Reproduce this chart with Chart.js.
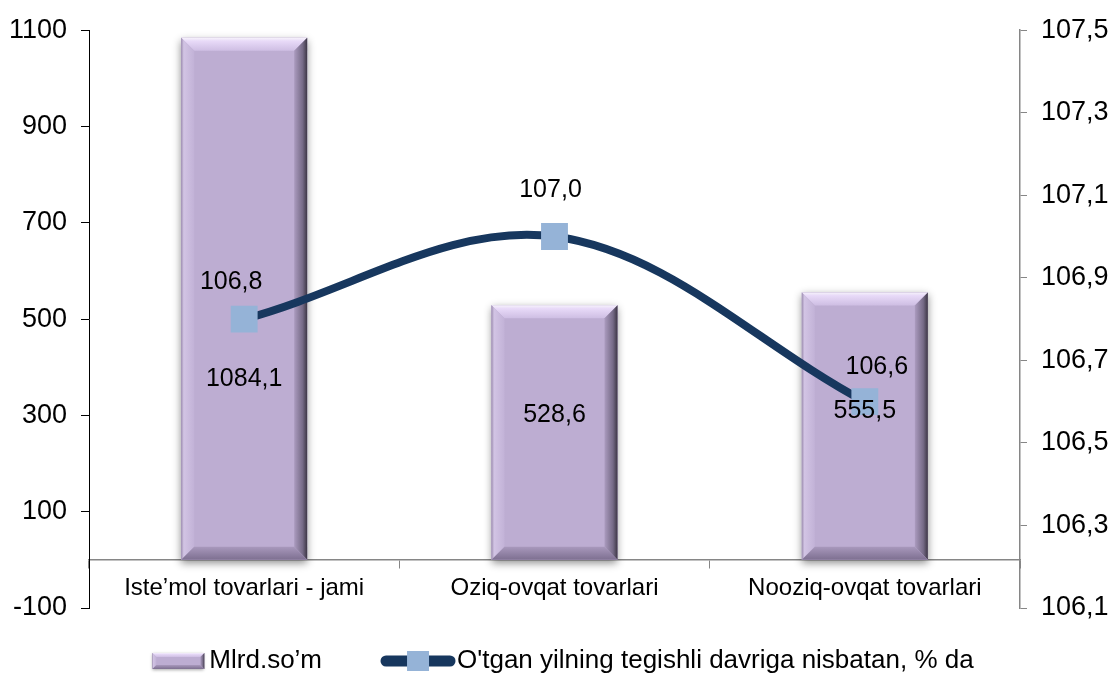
<!DOCTYPE html>
<html><head><meta charset="utf-8">
<script src="https://cdn.jsdelivr.net/npm/chart.js@4/dist/chart.umd.min.js"></script>
<style>html,body{margin:0;padding:0;background:#fff;overflow:hidden}canvas{display:block}</style>
</head><body>
<canvas id="c" width="1114" height="673"></canvas>
<script>
const categories = ["Iste\u2019mol tovarlari - jami", "Oziq-ovqat tovarlari", "Nooziq-ovqat tovarlari"];
const barValues = [1084.1, 528.6, 555.5];
const lineValues = [106.8, 107.0, 106.6];
const leftTicks = [-100, 100, 300, 500, 700, 900, 1100];
const rightTicks = [106.1, 106.3, 106.5, 106.7, 106.9, 107.1, 107.3, 107.5];
const barSeriesName = "Mlrd.so\u2019m";
const lineSeriesName = "O'tgan yilning tegishli davriga nisbatan, % da";
// label placement: bar labels in left-axis units, line labels as pixel offsets from the point
const barLabelAt = [376, 300, 308];
const lineLabelOffset = [[-13, -37], [-4, -46], [12, -35]];

const FONT = "'Liberation Sans', Arial, sans-serif";
const fmt = v => v.toFixed(1).replace('.', ',');
const BAR_FILL = '#BDADD2';

function poly(ctx, pts, fill) {
  ctx.beginPath(); ctx.moveTo(pts[0][0], pts[0][1]);
  for (let i = 1; i < pts.length; i++) ctx.lineTo(pts[i][0], pts[i][1]);
  ctx.closePath(); ctx.fillStyle = fill; ctx.fill();
}
function bevelBox(ctx, L, T, R, B, bs) {
  const b = Math.min(bs, (R - L) / 2, (B - T) / 2);
  let g = ctx.createLinearGradient(0, T, 0, T + b);
  g.addColorStop(0, '#F6F2FB'); g.addColorStop(0.25, '#E8DAF8'); g.addColorStop(1, '#CEBEE3');
  poly(ctx, [[L, T], [R, T], [R - b, T + b], [L + b, T + b]], g);
  g = ctx.createLinearGradient(L, 0, L + b, 0);
  g.addColorStop(0, '#9D8DB0'); g.addColorStop(0.2, '#D2C4E4'); g.addColorStop(1, '#C2B2D7');
  poly(ctx, [[L, T], [L + b, T + b], [L + b, B - b], [L, B]], g);
  g = ctx.createLinearGradient(R - b, 0, R, 0);
  g.addColorStop(0, '#AB9BBF'); g.addColorStop(0.65, '#756A86'); g.addColorStop(1, '#3C3644');
  poly(ctx, [[R, T], [R, B], [R - b, B - b], [R - b, T + b]], g);
  g = ctx.createLinearGradient(0, B - b, 0, B);
  g.addColorStop(0, '#A898BC'); g.addColorStop(1, '#7D6F90');
  poly(ctx, [[L, B], [R, B], [R - b, B - b], [L + b, B - b]], g);
}

const bevelPlugin = {
  id: 'bevel',
  beforeDatasetDraw(chart, args) {
    if (chart.data.datasets[args.index].type !== 'bar') return;
    const ctx = chart.ctx; ctx.save();
    args.meta.data.forEach(el => {
      const p = el.getProps(['x', 'y', 'base', 'width'], true);
      const L = p.x - p.width / 2, R = p.x + p.width / 2;
      const T = Math.min(p.y, p.base), B = Math.max(p.y, p.base);
      ctx.shadowColor = 'rgba(0,0,0,0.45)'; ctx.shadowBlur = 8; ctx.shadowOffsetY = 3;
      ctx.fillStyle = BAR_FILL; ctx.fillRect(L, T, R - L, B - T);
    });
    ctx.restore();
  },
  afterDatasetDraw(chart, args) {
    if (chart.data.datasets[args.index].type !== 'bar') return;
    const ctx = chart.ctx; ctx.save();
    args.meta.data.forEach(el => {
      const p = el.getProps(['x', 'y', 'base', 'width'], true);
      bevelBox(ctx, p.x - p.width / 2, Math.min(p.y, p.base), p.x + p.width / 2, Math.max(p.y, p.base), 13);
    });
    ctx.restore();
  }
};

const labelPlugin = {
  id: 'labels',
  afterDatasetsDraw(chart) {
    const ctx = chart.ctx; ctx.save();
    ctx.font = '25px ' + FONT; ctx.fillStyle = '#000'; ctx.textAlign = 'center'; ctx.textBaseline = 'middle';
    const yL = chart.scales.y;
    chart.getDatasetMeta(1).data.forEach((el, i) => {
      ctx.fillText(fmt(barValues[i]), el.x, yL.getPixelForValue(barLabelAt[i]));
    });
    chart.getDatasetMeta(0).data.forEach((el, i) => {
      ctx.fillText(fmt(lineValues[i]), el.x + lineLabelOffset[i][0], el.y + lineLabelOffset[i][1]);
    });
    ctx.restore();
  }
};

const legendPlugin = {
  id: 'customLegend',
  afterDraw(chart) {
    const ctx = chart.ctx; ctx.save();
    ctx.font = '26px ' + FONT; ctx.textBaseline = 'middle'; ctx.fillStyle = '#000';
    const w1 = ctx.measureText(barSeriesName).width, w2 = ctx.measureText(lineSeriesName).width;
    const sw = 52, gap1 = 5, spacing = 58, lw = 76, gap2 = 1;
    const total = sw + gap1 + w1 + spacing + lw + gap2 + w2;
    let x = 563 - total / 2; const cy = 661;
    ctx.save(); ctx.shadowColor = 'rgba(0,0,0,0.35)'; ctx.shadowBlur = 3; ctx.shadowOffsetY = 1;
    ctx.fillStyle = BAR_FILL; ctx.fillRect(x, cy - 8, sw, 16); ctx.restore();
    bevelBox(ctx, x, cy - 8, x + sw, cy + 8, 4);
    x += sw + gap1;
    ctx.fillStyle = '#000'; ctx.fillText(barSeriesName, x, cy);
    x += w1 + spacing;
    ctx.strokeStyle = '#17375E'; ctx.lineWidth = 11; ctx.lineCap = 'round';
    ctx.beginPath(); ctx.moveTo(x + 6, cy); ctx.lineTo(x + lw - 6, cy); ctx.stroke();
    ctx.fillStyle = '#95B3D7'; ctx.fillRect(x + lw / 2 - 11, cy - 10, 22, 20);
    x += lw + gap2;
    ctx.fillStyle = '#000'; ctx.fillText(lineSeriesName, x, cy);
    ctx.restore();
  }
};

new Chart(document.getElementById('c'), {
  data: {
    labels: categories,
    datasets: [
      {
        type: 'line', label: lineSeriesName, data: lineValues, yAxisID: 'y1', order: 0,
        borderColor: '#17375E', borderWidth: 8, tension: 0.35,
        pointStyle: 'rect', pointRadius: 19, pointHoverRadius: 19,
        pointBackgroundColor: '#95B3D7', pointBorderColor: '#95B3D7', pointBorderWidth: 0
      },
      {
        type: 'bar', label: barSeriesName, data: barValues, yAxisID: 'y', order: 1,
        backgroundColor: BAR_FILL, borderWidth: 0,
        categoryPercentage: 1.0, barPercentage: 0.406
      }
    ]
  },
  options: {
    responsive: false, animation: false, devicePixelRatio: 1,
    layout: { padding: { left: 0, right: 0, top: 26, bottom: 65 } },
    plugins: { legend: { display: false }, tooltip: { enabled: false } },
    scales: {
      x: {
        type: 'category', position: { y: 0 }, offset: true, z: 1,
        grid: { offset: true, drawOnChartArea: false, drawTicks: true, tickLength: 8, color: '#868686' },
        border: { color: '#868686', width: 1.5 },
        ticks: { font: { family: FONT, size: 24 }, color: '#000', padding: 6, maxRotation: 0 }
      },
      y: {
        type: 'linear', position: 'left', min: -100, max: 1100,
        afterBuildTicks: s => { s.ticks = leftTicks.map(v => ({ value: v })); },
        afterFit: s => { s.width = 89; },
        grid: { drawOnChartArea: false, drawTicks: true, tickLength: 8, color: '#000' },
        border: { color: '#000', width: 1 },
        ticks: { font: { family: FONT, size: 27 }, color: '#000', padding: 14, callback: v => String(v) }
      },
      y1: {
        type: 'linear', position: 'right', min: 106.1, max: 107.5,
        afterBuildTicks: s => { s.ticks = rightTicks.map(v => ({ value: v })); },
        afterFit: s => { s.width = 94; },
        grid: { drawOnChartArea: false, drawTicks: true, tickLength: 7, color: '#868686' },
        border: { color: '#868686', width: 1.5 },
        ticks: { font: { family: FONT, size: 27 }, color: '#000', padding: 14, callback: v => fmt(v) }
      }
    }
  },
  plugins: [bevelPlugin, labelPlugin, legendPlugin]
});
</script>
</body></html>
